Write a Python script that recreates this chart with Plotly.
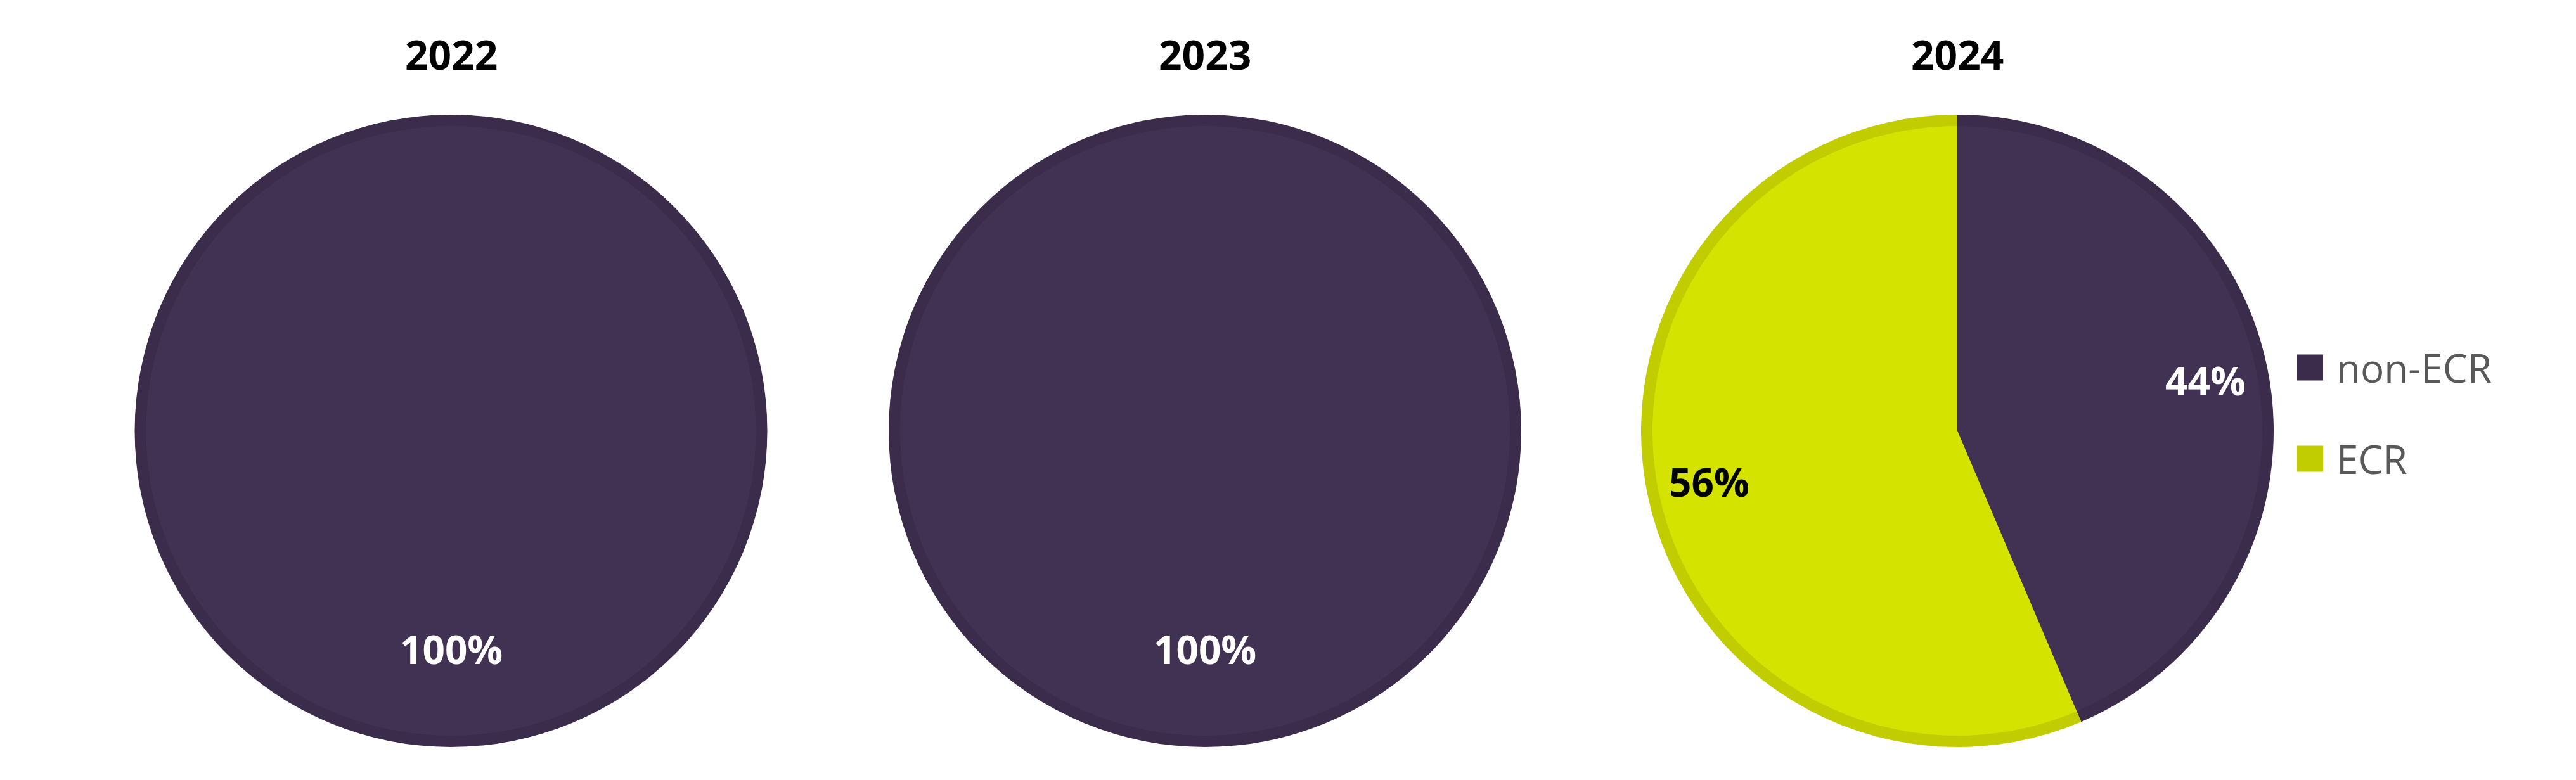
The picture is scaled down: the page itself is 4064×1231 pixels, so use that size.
import math
import plotly.graph_objects as go

# ---- data ----
years = ["2022", "2023", "2024"]
categories = ["non-ECR", "ECR"]
non_ecr = [100, 100, 43.6]
ecr = [0, 0, 56.4]

# ---- style ----
W, H = 4064, 1231
fill_colors = ["#413253", "#d4e300"]
border_colors = ["#3b2c4c", "#c2cd00"]
label_colors = ["white", "black"]
FONT = "Open Sans"

centers_x = [711.5, 1901, 3088]   # px
center_y = 680                      # px from top
R = 499                             # px
B = 18                              # inner border width px

fig = go.Figure()
annotations = []

for i, year in enumerate(years):
    vals = [non_ecr[i], ecr[i]]
    cx = centers_x[i]
    for rr, cols in ((R, border_colors), (R - B, fill_colors)):
        fig.add_trace(go.Pie(
            labels=categories, values=vals, sort=False, direction="clockwise",
            rotation=0, marker=dict(colors=cols, line=dict(width=0)),
            textinfo="none", hoverinfo="label+percent", showlegend=False,
            domain=dict(x=[(cx - rr) / W, (cx + rr) / W],
                        y=[1 - (center_y + rr) / H, 1 - (center_y - rr) / H]),
        ))
    # title
    annotations.append(dict(
        text="<b>%s</b>" % year, x=cx / W, y=1 - 85 / H, xref="paper", yref="paper",
        showarrow=False, font=dict(family=FONT, size=64, color="black"),
        xanchor="center", yanchor="middle"))
    # data labels
    total = sum(vals)
    cum = 0
    for j, v in enumerate(vals):
        if v <= 0:
            continue
        frac = v / total
        theta = 2 * math.pi * (cum + frac / 2)
        k = 0.69 if frac >= 0.999 else 0.8
        lx = cx + k * R * math.sin(theta)
        ly = center_y - k * R * math.cos(theta)
        annotations.append(dict(
            text="<b>%d%%</b>" % round(frac * 100), x=lx / W, y=1 - ly / H,
            xref="paper", yref="paper", showarrow=False,
            font=dict(family=FONT, size=62, color=label_colors[j]),
            xanchor="center", yanchor="middle"))
        cum += frac

# custom legend
shapes = []
leg_x0, leg_size = 3624, 41
leg_y = [580, 724]
for j, cat in enumerate(categories):
    yc = leg_y[j]
    shapes.append(dict(type="rect", xref="paper", yref="paper",
                       x0=leg_x0 / W, x1=(leg_x0 + leg_size) / W,
                       y0=1 - (yc + leg_size / 2) / H, y1=1 - (yc - leg_size / 2) / H,
                       fillcolor=border_colors[j], line=dict(width=0)))
    annotations.append(dict(
        text=cat, x=3684 / W, y=1 - yc / H, xref="paper", yref="paper",
        showarrow=False, font=dict(family=FONT, size=62, color="#595959"),
        xanchor="left", yanchor="middle"))

fig.update_layout(
    width=W, height=H, margin=dict(l=0, r=0, t=0, b=0),
    paper_bgcolor="white", plot_bgcolor="white",
    annotations=annotations, shapes=shapes, showlegend=False,
)

fig.write_html("out.html", config={"displayModeBar": False},
               post_script="document.body.style.margin='0';document.body.style.overflow='hidden';")
